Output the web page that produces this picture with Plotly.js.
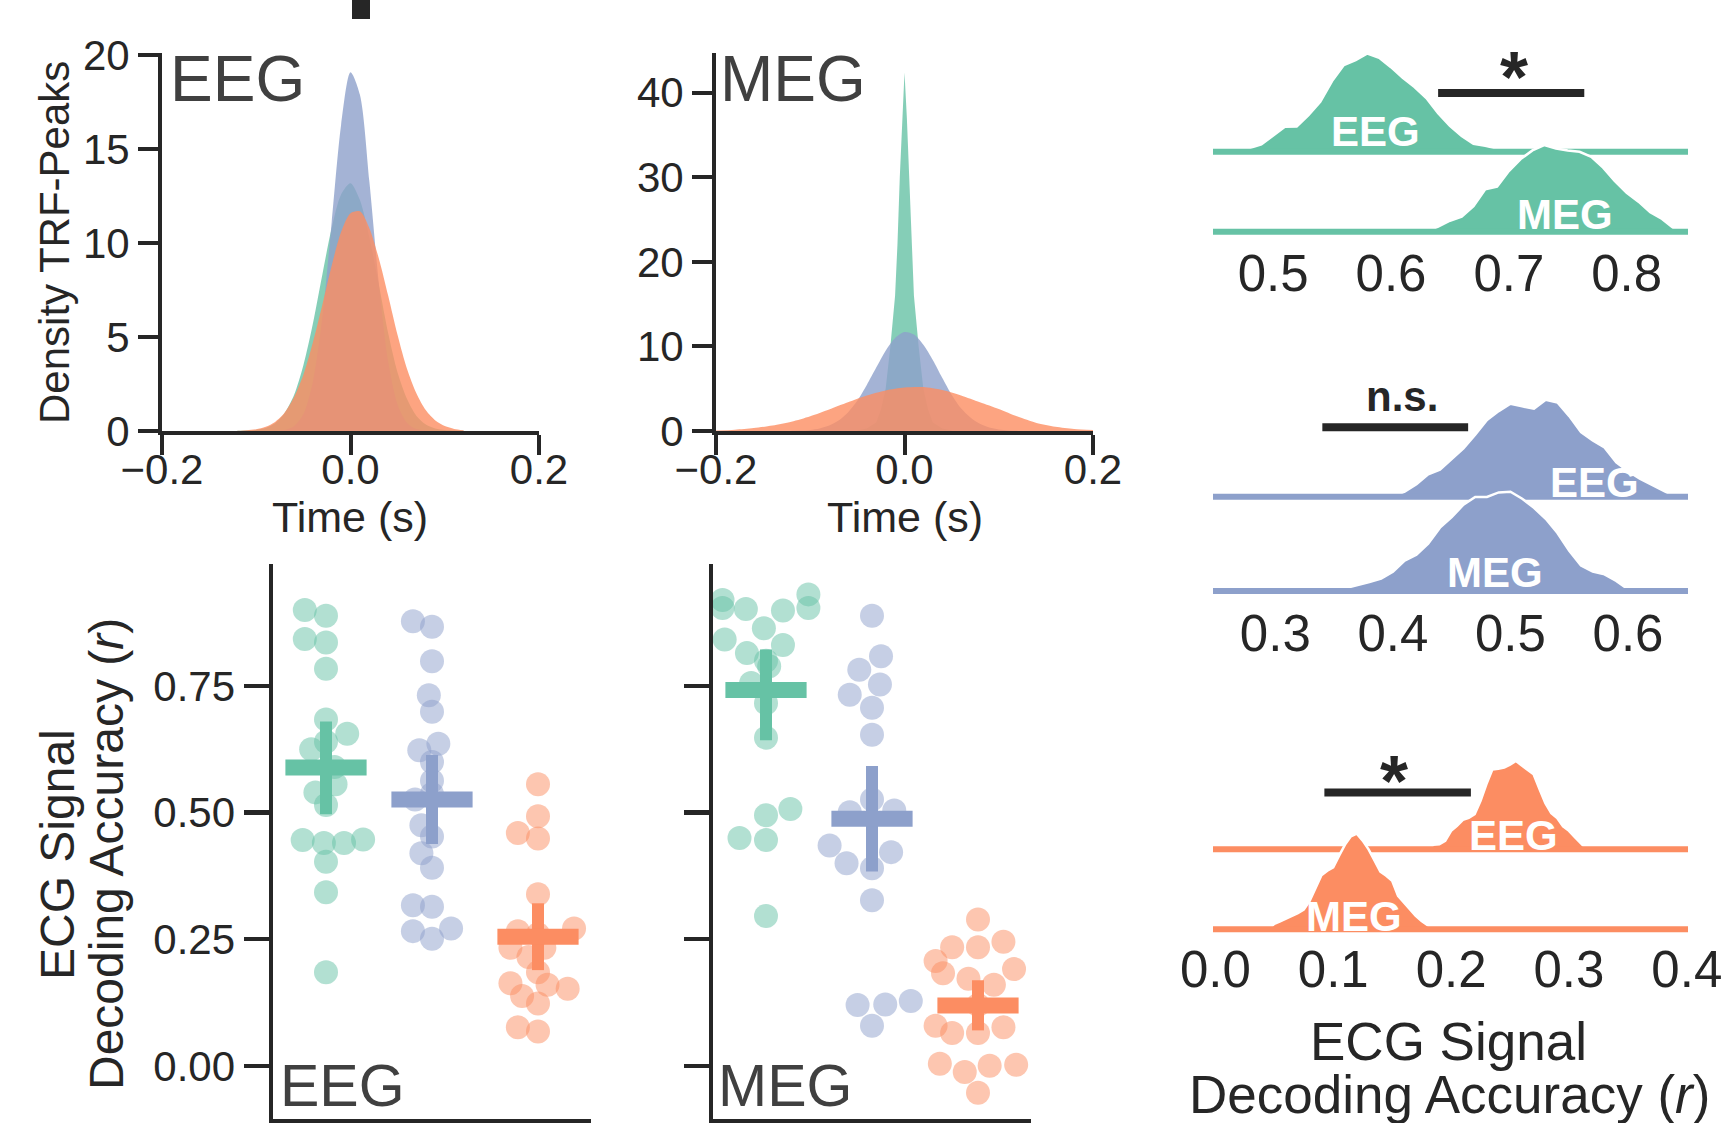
<!DOCTYPE html>
<html><head><meta charset="utf-8">
<script src="https://cdn.plot.ly/plotly-3.0.1.min.js"></script>
<style>html,body{margin:0;padding:0;background:#fff;}#chart{width:1733px;height:1123px;}</style>
</head><body><div id="chart"></div>
<script>
// ================= DATA =================
// Top row: density of TRF peaks over time (s)
const eegDensityTime = [-0.12,-0.11,-0.10,-0.09,-0.08,-0.07,-0.06,-0.05,-0.04,-0.03,-0.02,-0.01,0.00,0.01,0.02,0.03,0.04,0.05,0.06,0.07,0.08,0.09,0.10,0.11,0.12];
const eegDensityGreen  = [0.01,0.02,0.06,0.16,0.41,0.94,1.9,3.5,5.7,8.3,10.8,12.6,13.2,12.3,10.3,7.8,5.2,3.1,1.7,0.8,0.34,0.13,0.05,0.02,0.01];
const eegDensityBlue   = [0,0,0,0,0.01,0.05,0.25,0.9,2.6,6.0,11.1,16.3,19.1,17.9,13.3,7.9,3.7,1.4,0.43,0.1,0.02,0,0,0,0];
const eegDensityOrange = [0.01,0.04,0.09,0.22,0.48,0.97,1.8,3.0,4.7,6.7,8.8,10.6,11.6,11.7,10.8,9.2,7.2,5.1,3.3,2.0,1.1,0.56,0.26,0.11,0.04];

const megGreenTime = [-0.05,-0.04,-0.03,-0.025,-0.02,-0.015,-0.01,-0.0075,-0.005,-0.0025,0,0.0025,0.005,0.0075,0.01,0.015,0.02,0.025,0.03,0.04,0.05];
const megDensityGreen = [0.05,0.3,1.0,2.5,5.0,10.0,16.0,22.0,30.0,37.0,42.4,37.0,30.0,22.0,16.0,10.0,5.0,2.5,1.0,0.3,0.05];
const megBlueTime = [-0.12,-0.11,-0.10,-0.09,-0.08,-0.07,-0.06,-0.05,-0.04,-0.03,-0.02,-0.01,0.00,0.01,0.02,0.03,0.04,0.05,0.06,0.07,0.08,0.09,0.10,0.11,0.12];
const megDensityBlue = [0.02,0.05,0.13,0.30,0.64,1.24,2.2,3.6,5.45,7.5,9.5,11.0,11.7,11.4,10.2,8.4,6.3,4.3,2.7,1.6,0.85,0.41,0.18,0.07,0.03];
const megOrangeTime = [-0.20,-0.18,-0.16,-0.14,-0.12,-0.10,-0.08,-0.06,-0.04,-0.02,0.00,0.02,0.04,0.06,0.08,0.10,0.12,0.14,0.16,0.18,0.20];
const megDensityOrange = [0.05,0.15,0.35,0.65,1.1,1.75,2.55,3.4,4.2,4.8,5.15,5.2,4.85,4.2,3.4,2.6,1.7,0.95,0.5,0.25,0.12];

// Bottom row: per-participant ECG decoding accuracy (r) and swarm offsets
const eegGreenAcc   = [0.900,0.889,0.843,0.836,0.784,0.684,0.656,0.640,0.625,0.590,0.556,0.540,0.515,0.446,0.440,0.440,0.447,0.403,0.343,0.185];
const eegGreenSwarm = [-0.20,0.00,-0.20,0.00,0.00,0.00,0.20,0.00,-0.14,0.08,0.09,-0.10,0.00,-0.22,-0.02,0.17,0.35,0.00,0.00,0.00];
const eegBlueAcc    = [0.878,0.867,0.799,0.732,0.699,0.636,0.623,0.600,0.563,0.537,0.526,0.475,0.453,0.420,0.391,0.317,0.314,0.266,0.271,0.251];
const eegBlueSwarm  = [-0.18,0.00,0.00,-0.03,0.00,0.06,-0.12,0.00,0.00,0.00,-0.16,-0.10,0.00,-0.10,0.00,-0.18,0.00,-0.18,0.18,0.00];
const eegOrangeAcc  = [0.556,0.493,0.460,0.449,0.339,0.266,0.271,0.260,0.233,0.233,0.215,0.185,0.163,0.160,0.152,0.138,0.123,0.076,0.068];
const eegOrangeSwarm= [0.00,0.00,-0.19,0.00,0.00,-0.19,0.34,0.00,-0.26,0.06,-0.09,0.00,-0.26,0.09,0.28,-0.15,0.00,-0.19,0.00];

const megGreenAcc   = [0.931,0.920,0.904,0.902,0.899,0.904,0.864,0.842,0.831,0.815,0.789,0.756,0.800,0.716,0.648,0.507,0.495,0.450,0.446,0.296];
const megGreenSwarm = [0.40,-0.41,-0.41,-0.19,0.16,0.40,-0.02,-0.39,0.16,-0.18,0.03,-0.14,0.00,0.00,0.00,0.23,0.00,-0.25,0.00,0.00];
const megBlueAcc    = [0.889,0.809,0.782,0.753,0.733,0.707,0.654,0.526,0.501,0.504,0.435,0.422,0.400,0.390,0.327,0.120,0.121,0.128,0.079];
const megBlueSwarm  = [0.00,0.085,-0.12,0.075,-0.21,0.00,0.00,0.00,-0.21,0.21,-0.40,0.18,-0.24,0.00,0.00,-0.136,0.125,0.366,0.00];
const megOrangeAcc  = [0.289,0.234,0.234,0.245,0.207,0.183,0.191,0.172,0.160,0.120,0.079,0.065,0.065,0.076,0.004,-0.012,0.000,0.002,-0.053];
const megOrangeSwarm= [0.00,-0.244,0.00,0.24,-0.40,-0.33,0.34,-0.09,0.15,0.00,-0.40,-0.244,0.00,0.24,-0.36,-0.125,0.11,0.36,0.00];

// Mean and confidence interval (cross markers)
const eegMean = [0.589, 0.526, 0.255];
const eegCiPlus = [0.091, 0.088, 0.066];
const eegCiMinus = [0.092, 0.088, 0.066];
const megMean = [0.742, 0.488, 0.119];
const megCiPlus = [0.080, 0.104, 0.050];
const megCiMinus = [0.099, 0.104, 0.049];

// Right column: bootstrap distributions of decoding accuracy (ridges)
const ridgeGreenEEGx = [0.45,0.46,0.47,0.48,0.49,0.50,0.51,0.52,0.53,0.54,0.55,0.56,0.57,0.58,0.59,0.60,0.61,0.62,0.63,0.64,0.65,0.66,0.67,0.68,0.69,0.70,0.71];
const ridgeGreenEEG  = [0,0.09,0.18,0.32,0.65,1.44,2.21,2.24,3.24,4.41,6.24,7.65,8.09,8.68,8.29,7.47,6.53,5.71,4.74,3.41,2.29,1.38,0.71,0.53,0.29,0.15,0];
const ridgeGreenMEGx = [0.63,0.64,0.65,0.66,0.67,0.68,0.69,0.70,0.71,0.72,0.73,0.74,0.75,0.76,0.77,0.78,0.79,0.80,0.81,0.82,0.83,0.84,0.85];
const ridgeGreenMEG  = [0,0.44,0.97,1.32,2.26,3.74,3.97,5.35,6.41,7.18,7.65,7.35,7.18,7.06,6.62,5.65,4.47,3.44,2.65,1.71,1.12,0.29,0];
const ridgeBlueEEGx  = [0.40,0.41,0.42,0.43,0.44,0.45,0.46,0.47,0.48,0.49,0.50,0.51,0.52,0.53,0.54,0.55,0.56,0.57,0.58,0.59,0.60,0.61,0.62,0.63,0.64];
const ridgeBlueEEG   = [0,0.42,1.05,1.89,2.29,3.16,4.10,5.25,6.50,7.26,7.88,7.66,7.46,8.22,7.99,6.84,5.48,4.77,4.18,2.91,2.15,1.53,1.02,0.48,0];
const ridgeBlueMEGx  = [0.35,0.36,0.37,0.38,0.39,0.40,0.41,0.42,0.43,0.44,0.45,0.46,0.47,0.48,0.49,0.50,0.51,0.52,0.53,0.54,0.55,0.56,0.57,0.58,0.59,0.60,0.61];
const ridgeBlueMEG   = [0,0.25,0.48,0.76,1.05,1.64,2.57,3.08,4.01,5.37,6.27,7.32,7.97,7.97,8.36,8.42,7.82,7.06,6.13,4.92,3.42,2.15,1.64,1.41,0.85,0.14,0];
const ridgeOrangeEEGx= [0.180,0.185,0.190,0.195,0.200,0.205,0.210,0.215,0.220,0.225,0.230,0.235,0.240,0.245,0.250,0.255,0.260,0.265,0.270,0.275,0.280,0.285,0.290,0.295,0.300,0.305,0.310,0.315];
const ridgeOrangeEEG = [0,0.76,0.88,1.46,3.22,4.09,5.15,5.50,6.14,8.48,11.40,13.92,14.09,14.27,14.80,15.44,14.62,13.86,13.10,10.53,8.07,6.32,5.44,3.98,3.22,2.11,1.05,0];
const ridgeOrangeMEGx= [0.045,0.050,0.055,0.060,0.065,0.070,0.075,0.080,0.085,0.090,0.095,0.100,0.105,0.110,0.115,0.120,0.125,0.130,0.135,0.140,0.145,0.150,0.155,0.160,0.165,0.170,0.175,0.180,0.185];
const ridgeOrangeMEG = [0,0.94,1.40,1.81,2.34,2.81,3.45,4.97,7.31,9.47,10.23,10.82,12.87,14.80,16.26,16.73,15.50,13.98,12.05,10.06,9.36,8.48,5.85,4.68,3.63,2.34,1.46,0.76,0];

const ridgeTicks = [[0.5,0.6,0.7,0.8],[0.3,0.4,0.5,0.6],[0.0,0.1,0.2,0.3,0.4]];
const sigLabels = ['*', 'n.s.', '*'];
const sigBarR = [[0.640,0.764],[0.340,0.464],[0.0925,0.2168]];

// ================= STYLE / LAYOUT =================
const W = 1733, H = 1123;
const px = v => v / W;
const py = v => 1 - v / H;
const FONT = 'Liberation Sans, Arial, Helvetica, sans-serif';
const INK = '#262626';
const COLORS = ['#66c2a5', '#8da0cb', '#fc8d62'];
const FILLS = ['rgba(102,194,165,0.8)', 'rgba(141,160,203,0.8)', 'rgba(252,141,98,0.8)'];
const DOTS = ['rgba(102,194,165,0.5)', 'rgba(141,160,203,0.5)', 'rgba(252,141,98,0.5)'];

const traces = [];

// --- top density panels
function dens(x, y, i, xa, ya, shape) {
  traces.push({type:'scatter', mode:'lines', x:x, y:y, xaxis:xa, yaxis:ya,
    fill:'tozeroy', fillcolor:FILLS[i], line:{width:0, color:FILLS[i], shape:shape||'spline', smoothing:0.8},
    hoverinfo:'skip'});
}
dens(eegDensityTime, eegDensityGreen, 0, 'x', 'y');
dens(eegDensityTime, eegDensityBlue, 1, 'x', 'y');
dens(eegDensityTime, eegDensityOrange, 2, 'x', 'y');
dens(megGreenTime, megDensityGreen, 0, 'x2', 'y2', 'linear');
dens(megBlueTime, megDensityBlue, 1, 'x2', 'y2');
dens(megOrangeTime, megDensityOrange, 2, 'x2', 'y2');

// --- bottom strip panels
function strip(acc, swarm, i, xa, ya) {
  traces.push({type:'scatter', mode:'markers', x:swarm.map(o => i + o), y:acc, xaxis:xa, yaxis:ya,
    cliponaxis:false, marker:{size:24, color:DOTS[i], line:{width:0}}, hoverinfo:'y'});
}
function cross(mean, plus, minus, i, xa, ya) {
  traces.push({type:'scatter', mode:'markers', x:[i], y:[mean[i]], xaxis:xa, yaxis:ya, cliponaxis:false,
    marker:{symbol:'line-ew', size:58, color:COLORS[i], line:{width:16, color:COLORS[i]}},
    error_y:{type:'data', symmetric:false, array:[plus[i]], arrayminus:[minus[i]], color:COLORS[i], thickness:12, width:0},
    hoverinfo:'y'});
}
strip(eegGreenAcc, eegGreenSwarm, 0, 'x3', 'y3');
strip(eegBlueAcc, eegBlueSwarm, 1, 'x3', 'y3');
strip(eegOrangeAcc, eegOrangeSwarm, 2, 'x3', 'y3');
[0,1,2].forEach(i => cross(eegMean, eegCiPlus, eegCiMinus, i, 'x3', 'y3'));
strip(megGreenAcc, megGreenSwarm, 0, 'x4', 'y4');
strip(megBlueAcc, megBlueSwarm, 1, 'x4', 'y4');
strip(megOrangeAcc, megOrangeSwarm, 2, 'x4', 'y4');
[0,1,2].forEach(i => cross(megMean, megCiPlus, megCiMinus, i, 'x4', 'y4'));

// --- ridge panels
const ridgeRanges = [[0.449,0.852],[0.247,0.651],[-0.002,0.401]];
const ridgeOffset = [7.06, 8.0, 14.0];
const ridgeYRange = [[-1.53,16.93],[-1.53,17.9],[-2.75,33.1]];
const ridgeYdom = [[40,249],[380,609],[740,945]];
const ridgeData = [
  [ridgeGreenEEGx, ridgeGreenEEG, ridgeGreenMEGx, ridgeGreenMEG],
  [ridgeBlueEEGx, ridgeBlueEEG, ridgeBlueMEGx, ridgeBlueMEG],
  [ridgeOrangeEEGx, ridgeOrangeEEG, ridgeOrangeMEGx, ridgeOrangeMEG]
];
ridgeData.forEach((d, i) => {
  const xa = 'x' + (5 + i), ya = 'y' + (5 + i);
  const off = ridgeOffset[i];
  const rr = ridgeRanges[i];
  traces.push({type:'scatter', mode:'lines', x:d[0], y:d[1].map(v => v + off), xaxis:xa, yaxis:ya,
    fill:'toself', fillcolor:COLORS[i], line:{color:'#ffffff', width:2.5}, hoverinfo:'skip'});
  traces.push({type:'scatter', mode:'lines', x:rr, y:[off, off], xaxis:xa, yaxis:ya,
    line:{color:COLORS[i], width:6}, hoverinfo:'skip'});
  traces.push({type:'scatter', mode:'lines', x:d[2], y:d[3], xaxis:xa, yaxis:ya,
    fill:'toself', fillcolor:COLORS[i], line:{color:'#ffffff', width:2.5}, hoverinfo:'skip'});
  traces.push({type:'scatter', mode:'lines', x:rr, y:[0, 0], xaxis:xa, yaxis:ya,
    line:{color:COLORS[i], width:6}, hoverinfo:'skip'});
});

// --- axes
const base = {showgrid:false, zeroline:false, automargin:false, fixedrange:true,
  linecolor:INK, tickcolor:INK, tickfont:{family:FONT, size:42, color:INK}};
const layout = {
  width:W, height:H, margin:{l:0, r:0, t:0, b:0}, showlegend:false,
  paper_bgcolor:'#ffffff', plot_bgcolor:'rgba(0,0,0,0)', font:{family:FONT, color:INK},
  xaxis:{...base, domain:[px(162), px(539)], range:[-0.2,0.2], tickvals:[-0.2,0,0.2], tickformat:'.1f',
    ticks:'outside', ticklen:20, tickwidth:4, showline:true, linewidth:4, anchor:'y', ticklabelstandoff:-21},
  yaxis:{...base, domain:[py(431), py(53)], range:[0,20.13], tickvals:[0,5,10,15,20],
    ticks:'outside', ticklen:20, tickwidth:4, showline:true, linewidth:4, anchor:'x'},
  xaxis2:{...base, domain:[px(716), px(1093)], range:[-0.2,0.2], tickvals:[-0.2,0,0.2], tickformat:'.1f',
    ticks:'outside', ticklen:20, tickwidth:4, showline:true, linewidth:4, anchor:'y2', ticklabelstandoff:-21},
  yaxis2:{...base, domain:[py(431), py(53)], range:[0,44.7], tickvals:[0,10,20,30,40],
    ticks:'outside', ticklen:20, tickwidth:4, showline:true, linewidth:4, anchor:'x2'},
  xaxis3:{...base, domain:[px(273), px(591)], range:[-0.5,2.5], ticks:'', showticklabels:false,
    showline:true, linewidth:4.5, anchor:'y3'},
  yaxis3:{...base, domain:[py(1119), py(564)], range:[-0.105,0.991], tickvals:[0,0.25,0.5,0.75], tickformat:'.2f',
    ticks:'outside', ticklen:25, tickwidth:4.5, showline:true, linewidth:4.5, anchor:'x3'},
  xaxis4:{...base, domain:[px(713), px(1031)], range:[-0.5,2.5], ticks:'', showticklabels:false,
    showline:true, linewidth:4.5, anchor:'y4'},
  yaxis4:{...base, domain:[py(1119), py(564)], range:[-0.105,0.991], tickvals:[0,0.25,0.5,0.75],
    showticklabels:false, ticks:'outside', ticklen:25, tickwidth:4.5, showline:true, linewidth:4.5, anchor:'x4'},
  annotations:[], shapes:[]
};
[0,1,2].forEach(i => {
  layout['xaxis' + (5 + i)] = {...base, domain:[px(1213), px(1688)], range:ridgeRanges[i], tickvals:ridgeTicks[i],
    tickformat:'.1f', ticks:'', showline:false, tickfont:{family:FONT, size:51, color:INK}, anchor:'y' + (5 + i),
    ticklabelstandoff:-10};
  layout['yaxis' + (5 + i)] = {...base, domain:[py(ridgeYdom[i][1]), py(ridgeYdom[i][0])], range:ridgeYRange[i],
    visible:false, anchor:'x' + (5 + i)};
});

// --- text
function ann(text, x, y, size, opts) {
  layout.annotations.push(Object.assign({text:text, x:px(x), y:py(y), xref:'paper', yref:'paper',
    showarrow:false, xanchor:'center', yanchor:'middle', font:{family:FONT, size:size, color:INK}}, opts || {}));
}
ann('Density TRF-Peaks', 55, 243, 42, {textangle:-90});
ann('Time (s)', 350, 517, 43);
ann('Time (s)', 905, 517, 43);
ann('EEG', 168, 79.5, 64, {xanchor:'left', font:{family:FONT, size:64, color:'#404040'}});
ann('MEG', 718, 79.5, 64, {xanchor:'left', font:{family:FONT, size:64, color:'#404040'}});
ann('EEG', 278, 1086, 59, {xanchor:'left', font:{family:FONT, size:59, color:'#404040'}});
ann('MEG', 716, 1086, 59, {xanchor:'left', font:{family:FONT, size:59, color:'#404040'}});
ann('ECG Signal', 57, 855, 48, {textangle:-90});
ann('Decoding Accuracy (<i>r</i>)', 106, 854, 48, {textangle:-90});
ann('ECG Signal', 1448, 1041, 53);
ann('Decoding Accuracy (<i>r</i>)', 1449, 1094, 53);

const ridgeLabelPos = [[[1375,131.7],[1565,214.7]],[[1594,482],[1495,572.8]],[[1513.5,835.5],[1353.6,916]]];
ridgeLabelPos.forEach(p => {
  ann('<b>EEG</b>', p[0][0], p[0][1], 42, {font:{family:FONT, size:42, color:'#ffffff'}});
  ann('<b>MEG</b>', p[1][0], p[1][1], 42, {font:{family:FONT, size:42, color:'#ffffff'}});
});
const sigTextPos = [[1514, 77, 72], [1402, 396, 42], [1394, 781, 72]];
const sigBarY = [12.25, 13.9, 23.9];
sigLabels.forEach((s, i) => {
  ann('<b>' + s + '</b>', sigTextPos[i][0], sigTextPos[i][1], sigTextPos[i][2]);
  layout.shapes.push({type:'line', xref:'x' + (5 + i), yref:'y' + (5 + i),
    x0:sigBarR[i][0], x1:sigBarR[i][1], y0:sigBarY[i], y1:sigBarY[i], line:{color:INK, width:8}});
});
// cropped fragment of a panel mark at the top edge
layout.shapes.push({type:'rect', xref:'paper', yref:'paper', x0:px(352), x1:px(370), y0:py(19), y1:py(0),
  fillcolor:INK, line:{width:0}});

Plotly.newPlot('chart', traces, layout, {staticPlot:true, displayModeBar:false});
</script>
</body></html>
